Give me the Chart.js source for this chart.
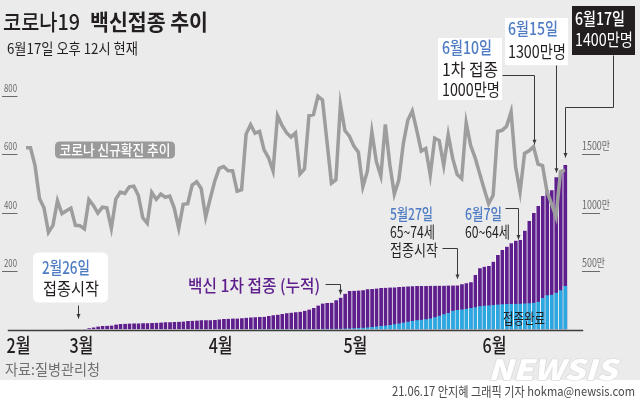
<!DOCTYPE html>
<html>
<head>
<meta charset="utf-8">
<script src="https://cdn.jsdelivr.net/npm/chart.js@4/dist/chart.umd.min.js"></script>
<style>
html,body{margin:0;padding:0;background:#fff;}
canvas{display:block;}
</style>
</head>
<body>
<canvas id="c" width="640" height="399"></canvas>
<script>
// ---------------- DATA ----------------
// categories: one per day, 2/13 .. 6/21
const monthSpans = [[2,13,28],[3,1,31],[4,1,30],[5,1,31],[6,1,21]];
const dateLabels = [];
monthSpans.forEach(([m,a,b]) => { for (let d=a; d<=b; d++) dateLabels.push(m+'/'+d); });

// daily new COVID-19 cases (left axis)
const covidCases = [
  null,null,null,null,
  621,621,561,448,416,332,356,440,396,406,415,356,                       // Feb 17-28
  355,344,444,424,398,418,416,346,446,470,465,488,490,459,382,363,
  469,445,463,452,456,415,346,428,430,494,505,482,384,447,506,           // Mar
  551,557,543,543,473,478,668,700,671,677,614,587,542,731,698,
  673,658,672,532,549,731,735,797,785,644,500,512,769,680,661,           // Apr
  627,606,488,541,676,574,525,701,564,463,511,635,715,747,681,
  610,619,528,654,646,561,666,585,530,516,707,629,587,533,480,430,       // May
  459,677,681,695,744,556,470,602,611,625,565,560,471,430,385,540,545,   // Jun 1-17
  null,null,null,null
];

// cumulative 1st dose (만명, right axis)
const firstDose = [
  null,null,null,null,null,null,null,null,null,null,null,null,null,
  2,2,2,                                                                 // Feb 26-28
  2,4,10,18,25,30,32,34,42,46,49,51,52,52,53,54,
  56,58,60,62,63,64,66,68,72,75,77,78,79,80,82,                          // Mar
  86,89,92,93,94,97,100,103,105,107,108,115,121,127,133,
  139,144,147,152,160,170,183,205,222,226,229,250,272,305,328,           // Apr
  331,333,336,343,346,350,354,357,358,360,363,366,368,370,371,
  372,372,373,374,375,375,376,376,377,386,395,403,466,523,537,543,       // May
  580,637,679,708,737,759,765,845,927,995,1056,1141,1187,1190,1301,1340,1406, // Jun 1-17
  null,null,null,null
];

// cumulative fully vaccinated (만명, right axis)
const fullyVaccinated = [
  null,null,null,null,null,null,null,null,null,null,null,null,null,
  0,0,0,
  0,0,0,0,0,0,0,0,0,0,0,0,0,0,0,0,
  0.1,0.2,0.3,0.4,0.5,0.5,0.6,0.8,1,1.2,1.3,1.3,1.4,1.6,1.8,             // Mar
  2,2.2,2.4,2.5,2.6,2.8,3,3.2,3.4,3.5,3.5,3.6,3.7,3.8,3.9,
  4,4.1,4.2,4.3,4.5,4.7,5,5.3,5.6,5.8,6,6.5,7,8,9,                       // Apr
  11,12,14,18,22,26,30,34,38,44,52,60,67,73,80,
  84,88,95,105,118,130,140,160,167,172,178,183,190,198,204,206,          // May
  210,213,215,217,219,220,221,223,225,229,238,270,292,298,315,335,372,   // Jun 1-17
  null,null,null,null
];

const tickDates  = ['2/15','3/1','4/1','5/1','6/1'];
const tickLabels = ['2월','3월','4월','5월','6월'];
const leftTicks  = [200,400,600,800];
const rightTicks = [500,1000,1500];
const rightTickLabels = ['500만','1000만','1500만'];

// ---------------- DRAWING HELPERS ----------------
const FONT = '"Noto Sans CJK KR", "Noto Sans", sans-serif';
function txt(c, s, x, y, o) {
  c.save();
  c.font = (o.style||'') + ' ' + (o.weight||400) + ' ' + o.size + 'px ' + FONT;
  c.fillStyle = o.color || '#231f20';
  c.textBaseline = 'middle';
  c.textAlign = 'left';
  const w = c.measureText(s).width;
  const sx = o.w ? o.w / w : (o.sx || 1);
  let x0 = x;
  if (o.align === 'center') x0 = x - w*sx/2;
  else if (o.align === 'right') x0 = x - w*sx;
  c.translate(x0, y);
  c.scale(sx, 1);
  if (o.stroke) { c.strokeStyle = o.stroke; c.lineWidth = o.strokeW || 2; c.strokeText(s, 0, 0); }
  c.fillText(s, 0, 0);
  c.restore();
}
function rrect(c, x, y, w, h, r) {
  c.beginPath();
  c.moveTo(x+r, y); c.lineTo(x+w-r, y); c.quadraticCurveTo(x+w, y, x+w, y+r);
  c.lineTo(x+w, y+h-r); c.quadraticCurveTo(x+w, y+h, x+w-r, y+h);
  c.lineTo(x+r, y+h); c.quadraticCurveTo(x, y+h, x, y+h-r);
  c.lineTo(x, y+r); c.quadraticCurveTo(x, y, x+r, y);
  c.closePath();
}
function leader(c, pts) {
  c.save();
  c.strokeStyle = '#3a3a3a'; c.lineWidth = 1;
  c.beginPath();
  pts.forEach((p,i) => { const X = Math.round(p[0])+0.5, Y = Math.round(p[1])+0.5; i ? c.lineTo(X,Y) : c.moveTo(X,Y); });
  c.stroke();
  const last = pts[pts.length-1];
  const X = Math.round(last[0])+0.5, Y = last[1];
  c.fillStyle = '#3a3a3a';
  c.beginPath(); c.moveTo(X-2, Y-4); c.lineTo(X+2, Y-4); c.lineTo(X, Y+0.5); c.closePath(); c.fill();
  c.restore();
}

const BLUE_TXT = '#4f7cc3';
const PURPLE = '#5e1e8c';

const deco = {
  id: 'deco',
  beforeDraw(chart) {
    const c = chart.ctx;
    c.save();
    c.fillStyle = '#ebebeb'; c.fillRect(0, 0, 640, 380);
    c.fillStyle = '#ffffff'; c.fillRect(0, 380, 640, 19);
    c.restore();
  },
  afterDatasetsDraw(chart) {
    const c = chart.ctx, a = chart.chartArea, yL = chart.scales.yL;
    const y0 = Math.round(yL.getPixelForValue(0)) + 0.5;
    c.save();
    c.strokeStyle = '#3c3c3c'; c.lineWidth = 1.3;
    c.beginPath(); c.moveTo(a.left + 2, y0); c.lineTo(a.right - 2, y0); c.stroke();
    c.restore();
  },
  afterDraw(chart) {
    const c = chart.ctx, xs = chart.scales.x, yL = chart.scales.yL, yR = chart.scales.yR;
    const idx = d => dateLabels.indexOf(d);
    const px = d => xs.getPixelForValue(idx(d));
    const barTop = d => yR.getPixelForValue(firstDose[idx(d)]);
    const lineY = d => yL.getPixelForValue(covidCases[idx(d)]);

    // title / subtitle
    txt(c, '코로나19', 3, 22, {size: 22, weight: 500, w: 77, color: '#231f20'});
    txt(c, '백신접종 추이', 90, 22, {size: 22, weight: 700, w: 118, color: '#231f20'});
    txt(c, '6월17일 오후 12시 현재', 7, 48, {size: 14.5, weight: 400, w: 131, color: '#231f20'});

    // left axis ticks
    c.save();
    c.strokeStyle = '#6a6a6a'; c.lineWidth = 1;
    leftTicks.forEach(v => {
      const y = Math.round(yL.getPixelForValue(v)) + 0.5;
      c.beginPath(); c.moveTo(2, y); c.lineTo(17.5, y); c.stroke();
      txt(c, String(v), 4, y - 8.5, {size: 10.5, w: 13, color: '#6a6a6a'});
    });
    rightTicks.forEach((v, i) => {
      const y = Math.round(yR.getPixelForValue(v)) + 0.5;
      c.beginPath(); c.moveTo(582, y); c.lineTo(600, y); c.stroke();
      txt(c, rightTickLabels[i], 582, y - 8.5, {size: 11.5, w: v >= 1000 ? 28 : 23, color: '#6a6a6a'});
    });
    c.restore();

    // month labels
    tickDates.forEach((d, i) => {
      txt(c, tickLabels[i], px(d) + 1.5, 345.5, {size: 20, weight: 500, w: 24, align: 'center', color: '#231f20'});
    });

    // covid line label pill
    c.save();
    c.fillStyle = '#9a9a9a';
    rrect(c, 55, 141.5, 120, 17, 5); c.fill();
    c.restore();
    txt(c, '코로나 신규확진 추이', 115, 150, {size: 14, weight: 500, w: 111, align: 'center', color: '#ffffff'});

    // 2월26일 box
    c.save();
    c.fillStyle = '#ffffff';
    rrect(c, 33, 252.5, 75, 50, 6); c.fill();
    c.restore();
    txt(c, '2월26일', 42, 268, {size: 17, weight: 500, w: 48, color: BLUE_TXT});
    txt(c, '접종시작', 43, 289, {size: 17, weight: 400, w: 56, color: '#231f20'});
    leader(c, [[78, 305], [78, 318]]);

    // vaccine series label
    txt(c, '백신 1차 접종 (누적)', 188, 285.5, {size: 17, weight: 500, w: 132, color: PURPLE});
    leader(c, [[325, 284], [px('4/28'), 284], [px('4/28'), barTop('4/28') - 4]]);

    // 5월27일
    txt(c, '5월27일', 390, 214, {size: 16, weight: 500, w: 43, color: BLUE_TXT});
    txt(c, '65~74세', 390, 231.5, {size: 16, weight: 400, w: 45, color: '#231f20'});
    txt(c, '접종시작', 390, 249.5, {size: 16, weight: 400, w: 48, color: '#231f20'});
    leader(c, [[442, 248], [px('5/24'), 248], [px('5/24'), barTop('5/24') - 7]]);

    // 6월7일
    txt(c, '6월7일', 465, 214, {size: 16, weight: 500, w: 37, color: BLUE_TXT});
    txt(c, '60~64세', 465, 231.5, {size: 16, weight: 400, w: 45, color: '#231f20'});
    leader(c, [[505, 208], [px('6/7') - 2, 208], [px('6/7') - 2, barTop('6/7') - 1]]);

    // 6월10일 box
    c.save(); c.fillStyle = '#ffffff'; c.fillRect(438, 38, 64, 62); c.restore();
    txt(c, '6월10일', 442, 47.5, {size: 17, weight: 500, w: 50, color: BLUE_TXT});
    txt(c, '1차 접종', 442, 70, {size: 17, weight: 400, w: 56, color: '#231f20'});
    txt(c, '1000만명', 442, 90, {size: 17, weight: 400, w: 58, color: '#231f20'});
    leader(c, [[502, 75], [px('6/10'), 75], [px('6/10'), lineY('6/10') - 3]]);

    // 6월15일 box
    c.save(); c.fillStyle = '#ffffff'; c.fillRect(505, 18, 63, 47); c.restore();
    txt(c, '6월15일', 508, 28.5, {size: 17, weight: 500, w: 50, color: BLUE_TXT});
    txt(c, '1300만명', 508, 51.5, {size: 17, weight: 400, w: 58, color: '#231f20'});
    leader(c, [[px('6/15'), 65], [px('6/15'), barTop('6/15') - 5]]);

    // 6월17일 box
    c.save(); c.fillStyle = '#231f20'; c.fillRect(572, 6, 63, 49); c.restore();
    txt(c, '6월17일', 575, 18.5, {size: 17, weight: 500, w: 50, color: '#ffffff'});
    txt(c, '1400만명', 575, 40, {size: 17, weight: 400, w: 58, color: '#ffffff'});
    leader(c, [[613, 55], [613, 107], [px('6/17'), 107], [px('6/17'), barTop('6/17') - 8]]);

    // 접종완료
    txt(c, '접종완료', 503, 318.5, {size: 15, weight: 400, w: 42, color: '#231f20'});

    // source / credit / logo
    txt(c, '자료:질병관리청', 5, 369, {size: 15, weight: 400, w: 95, color: '#707070'});
    txt(c, 'NEWSIS', 488, 369.5, {size: 28, weight: 900, style: 'italic', w: 129, color: '#ffffff', stroke: '#dcdcdc', strokeW: 1.5});
    txt(c, '21.06.17 안지혜 그래픽 기자 hokma@newsis.com', 635, 391.5, {size: 13, weight: 400, w: 243, align: 'right', color: '#4a4a4a'});
  }
};

new Chart(document.getElementById('c'), {
  data: {
    labels: dateLabels,
    datasets: [
      {
        type: 'line', label: '코로나 신규확진', data: covidCases, yAxisID: 'yL', order: 0,
        borderColor: '#9d9d9d', borderWidth: 3.5, pointRadius: 0, tension: 0,
        spanGaps: false, clip: false, borderJoinStyle: 'miter'
      },
      {
        type: 'bar', label: '접종완료', data: fullyVaccinated, yAxisID: 'yR', order: 1, grouped: false,
        backgroundColor: '#2aa8df', borderColor: 'rgba(255,255,255,0.75)',
        borderWidth: {left: 1, right: 0, top: 0, bottom: 0}, borderSkipped: false,
        categoryPercentage: 1, barPercentage: 1
      },
      {
        type: 'bar', label: '백신 1차 접종 (누적)', data: firstDose, yAxisID: 'yR', order: 2, grouped: false,
        backgroundColor: '#5e1e8c', borderColor: 'rgba(255,255,255,0.7)',
        borderWidth: {left: 1, right: 0, top: 0, bottom: 0}, borderSkipped: false,
        categoryPercentage: 1, barPercentage: 1
      }
    ]
  },
  options: {
    responsive: false,
    animation: false,
    devicePixelRatio: 1,
    layout: { padding: { left: 5.8, right: 54.8, top: 95.5, bottom: 69.5 } },
    plugins: { legend: { display: false }, tooltip: { enabled: false }, title: { display: false } },
    scales: {
      x: { type: 'category', display: false, offset: true },
      yL: { type: 'linear', display: false, position: 'left', min: 0, max: 800 },
      yR: { type: 'linear', display: false, position: 'right', min: 0, max: 2000 }
    }
  },
  plugins: [deco]
});
</script>
</body>
</html>
